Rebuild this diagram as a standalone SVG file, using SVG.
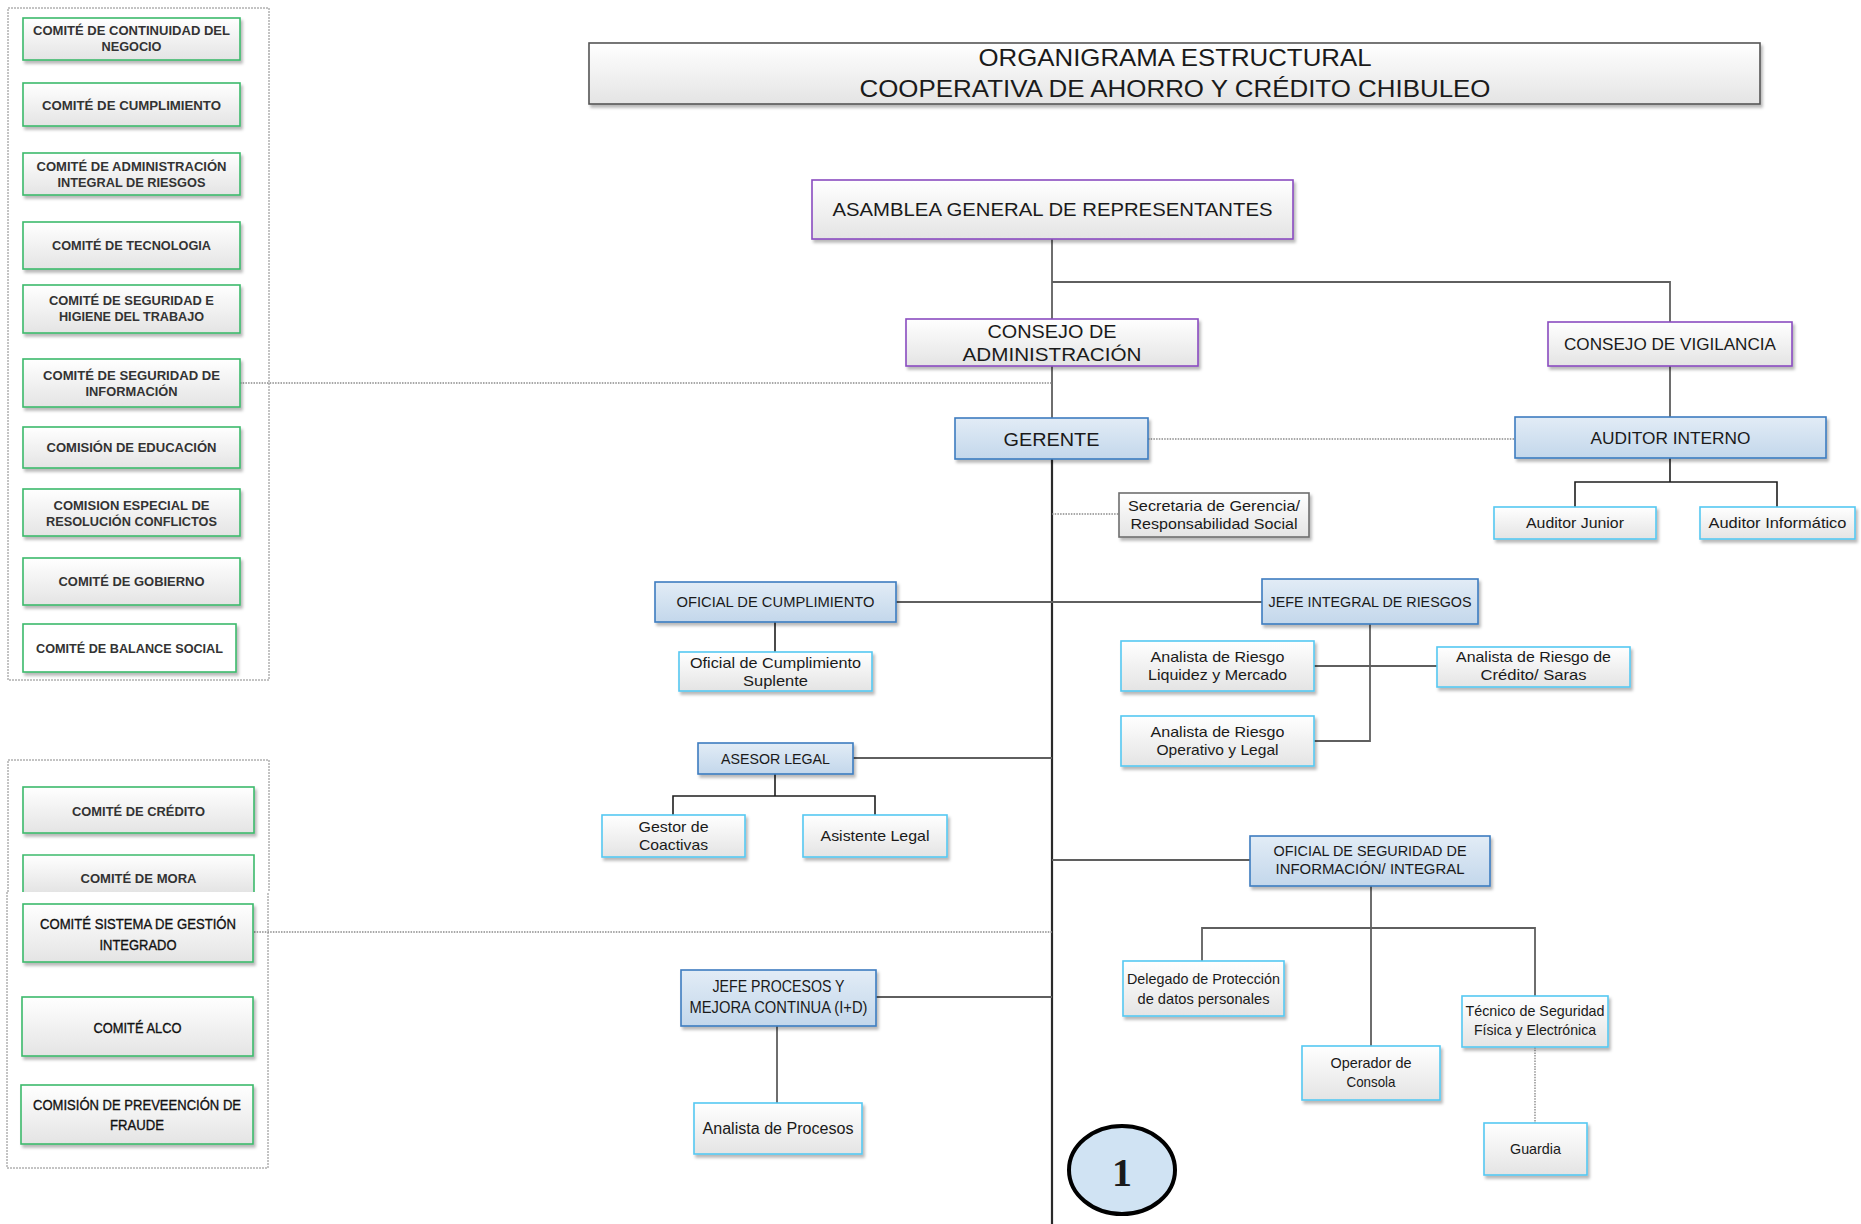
<svg xmlns="http://www.w3.org/2000/svg" width="1861" height="1224" viewBox="0 0 1861 1224">
<defs>
<linearGradient id="gGray" x1="0" y1="0" x2="0" y2="1"><stop offset="0" stop-color="#ffffff"/><stop offset="1" stop-color="#e4e4e4"/></linearGradient>
<linearGradient id="gBlue" x1="0" y1="0" x2="0" y2="1"><stop offset="0" stop-color="#e2ecf6"/><stop offset="1" stop-color="#c3d7eb"/></linearGradient>
<filter id="sh" x="-10%" y="-10%" width="130%" height="150%"><feDropShadow dx="2" dy="3" stdDeviation="1.5" flood-color="#000" flood-opacity="0.28"/></filter>
<style>
text{font-family:"Liberation Sans",Arial,sans-serif;fill:#1a1a1a;text-anchor:middle}
.com{fill:url(#gGray);stroke:#3cba6c;stroke-width:1.6;filter:url(#sh)}
.comw{fill:#ffffff;stroke:#3cba6c;stroke-width:1.6;filter:url(#sh)}
.ct{font-size:12.5px;font-weight:bold;fill:#333}
.ct2{font-size:15px;fill:#111;stroke:#111;stroke-width:0.35}
.pur{fill:url(#gGray);stroke:#8a4cc0;stroke-width:1.6;filter:url(#sh)}
.blue{fill:url(#gBlue);stroke:#3d7cc0;stroke-width:1.6;filter:url(#sh)}
.lb{fill:url(#gGray);stroke:#55c8f2;stroke-width:1.6;filter:url(#sh)}
.gr{fill:url(#gGray);stroke:#6e6e6e;stroke-width:1.6;filter:url(#sh)}
.ttl{fill:url(#gGray);stroke:#555;stroke-width:1.6;filter:url(#sh)}
.panel{fill:none;stroke:#888;stroke-width:1;stroke-dasharray:2 1}
.ln{fill:none;stroke:#5f5f5f;stroke-width:1.8}
.lk{fill:none;stroke:#1e1e1e;stroke-width:1.6}
.main{fill:none;stroke:#2a2a2a;stroke-width:2.2}
.dot{fill:none;stroke:#8a8a8a;stroke-width:1.4;stroke-dasharray:1.5 1.2}
.n1{font-size:19px}
.n2{font-size:17px}
.n3{font-size:15px}
.n4{font-size:14.5px}
</style>
</defs>

<g id="panel1">
<rect class="panel" x="8" y="8" width="261" height="672"/>
</g>
<g id="panel2">
<path class="panel" d="M8 892 V760 H269 V892"/>
<path class="panel" d="M7 892 V1168 H268 V892"/>
</g>

<g id="connectors">
<path class="ln" d="M1052 239 V319 M1052 366 V418"/>
<path class="main" d="M1052 459 V1224"/>
<path class="ln" d="M1052 282 H1670 V322 M1670 366 V417"/>
<path class="dot" d="M1148 439 H1515"/>
<path class="lk" d="M1670 458 V482 M1575 507 V482 H1777 V507"/>
<path class="dot" d="M1052 514 H1119"/>
<path class="ln" d="M896 602 H1262"/>
<path class="lk" d="M775 622 V652"/>
<path class="ln" d="M1370 624 V741 H1314 M1314 666 H1437"/>
<path class="ln" d="M853 758 H1052"/>
<path class="lk" d="M775 774 V796 M673 815 V796 H875 V815"/>
<path class="ln" d="M1052 860 H1250"/>
<path class="ln" d="M1371 886 V1046 M1202 961 V928 H1535 V996"/>
<path class="dot" d="M1535 1047 V1123"/>
<path class="ln" d="M876 997 H1052 M777 1026 V1103"/>
<path class="dot" d="M240 383 H1052"/>
<path class="dot" d="M254 932 H1052"/>
</g>

<g id="title">
<rect class="ttl" x="589" y="43" width="1171" height="61"/>
<text x="1175" y="66" font-size="24" textLength="393" lengthAdjust="spacingAndGlyphs">ORGANIGRAMA ESTRUCTURAL</text>
<text x="1175" y="97" font-size="24" textLength="631" lengthAdjust="spacingAndGlyphs">COOPERATIVA DE AHORRO Y CRÉDITO CHIBULEO</text>
</g>

<g id="c1"><rect class="com" x="23" y="18" width="217" height="42"/>
<text class="ct" x="131.5" y="35" textLength="197" lengthAdjust="spacingAndGlyphs">COMITÉ DE CONTINUIDAD DEL</text>
<text class="ct" x="131.5" y="50.5" textLength="60" lengthAdjust="spacingAndGlyphs">NEGOCIO</text></g>
<g id="c2"><rect class="com" x="23" y="83" width="217" height="43"/>
<text class="ct" x="131.5" y="110" textLength="179" lengthAdjust="spacingAndGlyphs">COMITÉ DE CUMPLIMIENTO</text></g>
<g id="c3"><rect class="com" x="23" y="153" width="217" height="42"/>
<text class="ct" x="131.5" y="171" textLength="190" lengthAdjust="spacingAndGlyphs">COMITÉ DE ADMINISTRACIÓN</text>
<text class="ct" x="131.5" y="187" textLength="148" lengthAdjust="spacingAndGlyphs">INTEGRAL DE RIESGOS</text></g>
<g id="c4"><rect class="com" x="23" y="222" width="217" height="47"/>
<text class="ct" x="131.5" y="250" textLength="159" lengthAdjust="spacingAndGlyphs">COMITÉ DE TECNOLOGIA</text></g>
<g id="c5"><rect class="com" x="23" y="285" width="217" height="48"/>
<text class="ct" x="131.5" y="305" textLength="165" lengthAdjust="spacingAndGlyphs">COMITÉ DE SEGURIDAD E</text>
<text class="ct" x="131.5" y="321" textLength="145" lengthAdjust="spacingAndGlyphs">HIGIENE DEL TRABAJO</text></g>
<g id="c6"><rect class="com" x="23" y="359" width="217" height="48"/>
<text class="ct" x="131.5" y="380" textLength="177" lengthAdjust="spacingAndGlyphs">COMITÉ DE SEGURIDAD DE</text>
<text class="ct" x="131.5" y="395.5" textLength="92" lengthAdjust="spacingAndGlyphs">INFORMACIÓN</text></g>
<g id="c7"><rect class="com" x="23" y="427" width="217" height="41"/>
<text class="ct" x="131.5" y="452" textLength="170" lengthAdjust="spacingAndGlyphs">COMISIÓN DE EDUCACIÓN</text></g>
<g id="c8"><rect class="com" x="23" y="489" width="217" height="47"/>
<text class="ct" x="131.5" y="510" textLength="156" lengthAdjust="spacingAndGlyphs">COMISION ESPECIAL DE</text>
<text class="ct" x="131.5" y="525.5" textLength="171" lengthAdjust="spacingAndGlyphs">RESOLUCIÓN CONFLICTOS</text></g>
<g id="c9"><rect class="com" x="23" y="558" width="217" height="47"/>
<text class="ct" x="131.5" y="586" textLength="146" lengthAdjust="spacingAndGlyphs">COMITÉ DE GOBIERNO</text></g>
<g id="c10"><rect class="comw" x="23" y="624" width="213" height="48"/>
<text class="ct" x="129.5" y="653" textLength="187" lengthAdjust="spacingAndGlyphs">COMITÉ DE BALANCE SOCIAL</text></g>

<g id="c11"><rect class="com" x="23" y="787" width="231" height="46"/>
<text class="ct" x="138.5" y="816" textLength="133" lengthAdjust="spacingAndGlyphs">COMITÉ DE CRÉDITO</text></g>
<g id="c12"><path class="com" d="M23 892 V855 H254 V892" style="filter:none"/>
<text class="ct" x="138.5" y="883" textLength="116" lengthAdjust="spacingAndGlyphs">COMITÉ DE MORA</text></g>
<g id="c13"><rect class="com" x="23" y="904" width="230" height="58"/>
<text class="ct2" x="138" y="929" textLength="196" lengthAdjust="spacingAndGlyphs">COMITÉ SISTEMA DE GESTIÓN</text>
<text class="ct2" x="138" y="950" textLength="77" lengthAdjust="spacingAndGlyphs">INTEGRADO</text></g>
<g id="c14"><rect class="com" x="22" y="997" width="231" height="59"/>
<text class="ct2" x="137.5" y="1033" textLength="88" lengthAdjust="spacingAndGlyphs">COMITÉ ALCO</text></g>
<g id="c15"><rect class="com" x="21" y="1085" width="232" height="59"/>
<text class="ct2" x="137" y="1110" textLength="208" lengthAdjust="spacingAndGlyphs">COMISIÓN DE PREVEENCIÓN DE</text>
<text class="ct2" x="137" y="1130" textLength="54" lengthAdjust="spacingAndGlyphs">FRAUDE</text></g>

<g id="asamblea"><rect class="pur" x="812" y="180" width="481" height="59"/>
<text class="n1" x="1052.5" y="216" textLength="440" lengthAdjust="spacingAndGlyphs">ASAMBLEA GENERAL DE REPRESENTANTES</text></g>
<g id="consejo-admin"><rect class="pur" x="906" y="319" width="292" height="47"/>
<text class="n1" x="1052" y="338" textLength="129" lengthAdjust="spacingAndGlyphs">CONSEJO DE</text>
<text class="n1" x="1052" y="361" textLength="179" lengthAdjust="spacingAndGlyphs">ADMINISTRACIÓN</text></g>
<g id="consejo-vigilancia"><rect class="pur" x="1548" y="322" width="244" height="44"/>
<text class="n2" x="1670" y="349.5" textLength="212" lengthAdjust="spacingAndGlyphs">CONSEJO DE VIGILANCIA</text></g>
<g id="gerente"><rect class="blue" x="955" y="418" width="193" height="41"/>
<text class="n1" x="1051.5" y="445.5" textLength="96" lengthAdjust="spacingAndGlyphs">GERENTE</text></g>
<g id="auditor-interno"><rect class="blue" x="1515" y="417" width="311" height="41"/>
<text class="n2" x="1670.5" y="444" textLength="160" lengthAdjust="spacingAndGlyphs">AUDITOR INTERNO</text></g>
<g id="auditor-junior"><rect class="lb" x="1494" y="507" width="162" height="32"/>
<text class="n4" x="1575" y="528" textLength="98" lengthAdjust="spacingAndGlyphs">Auditor Junior</text></g>
<g id="auditor-informatico"><rect class="lb" x="1700" y="507" width="155" height="32"/>
<text class="n4" x="1777.5" y="528" textLength="138" lengthAdjust="spacingAndGlyphs">Auditor Informático</text></g>
<g id="secretaria"><rect class="gr" x="1119" y="493" width="190" height="44"/>
<text class="n4" x="1214" y="511" textLength="172" lengthAdjust="spacingAndGlyphs">Secretaria de Gerencia/</text>
<text class="n4" x="1214" y="529" textLength="167" lengthAdjust="spacingAndGlyphs">Responsabilidad Social</text></g>
<g id="oficial-cumplimiento"><rect class="blue" x="655" y="582" width="241" height="40"/>
<text class="n3" x="775.5" y="607" textLength="198" lengthAdjust="spacingAndGlyphs">OFICIAL DE CUMPLIMIENTO</text></g>
<g id="jefe-riesgos"><rect class="blue" x="1262" y="579" width="216" height="45"/>
<text class="n3" x="1370" y="607" textLength="203" lengthAdjust="spacingAndGlyphs">JEFE INTEGRAL DE RIESGOS</text></g>
<g id="oficial-suplente"><rect class="lb" x="679" y="652" width="193" height="39"/>
<text class="n4" x="775.5" y="668" textLength="171" lengthAdjust="spacingAndGlyphs">Oficial de Cumplimiento</text>
<text class="n4" x="775.5" y="686" textLength="65" lengthAdjust="spacingAndGlyphs">Suplente</text></g>
<g id="analista-liquidez"><rect class="lb" x="1121" y="641" width="193" height="50"/>
<text class="n4" x="1217.5" y="662" textLength="134" lengthAdjust="spacingAndGlyphs">Analista de Riesgo</text>
<text class="n4" x="1217.5" y="680" textLength="139" lengthAdjust="spacingAndGlyphs">Liquidez y Mercado</text></g>
<g id="analista-credito"><rect class="lb" x="1437" y="647" width="193" height="40"/>
<text class="n4" x="1533.5" y="662" textLength="155" lengthAdjust="spacingAndGlyphs">Analista de Riesgo de</text>
<text class="n4" x="1533.5" y="680" textLength="106" lengthAdjust="spacingAndGlyphs">Crédito/ Saras</text></g>
<g id="analista-operativo"><rect class="lb" x="1121" y="716" width="193" height="50"/>
<text class="n4" x="1217.5" y="737" textLength="134" lengthAdjust="spacingAndGlyphs">Analista de Riesgo</text>
<text class="n4" x="1217.5" y="755" textLength="122" lengthAdjust="spacingAndGlyphs">Operativo y Legal</text></g>
<g id="asesor-legal"><rect class="blue" x="698" y="743" width="155" height="31"/>
<text class="n3" x="775.5" y="763.5" textLength="109" lengthAdjust="spacingAndGlyphs">ASESOR LEGAL</text></g>
<g id="gestor"><rect class="lb" x="602" y="815" width="143" height="42"/>
<text class="n4" x="673.5" y="832" textLength="70" lengthAdjust="spacingAndGlyphs">Gestor de</text>
<text class="n4" x="673.5" y="850" textLength="69" lengthAdjust="spacingAndGlyphs">Coactivas</text></g>
<g id="asistente-legal"><rect class="lb" x="803" y="815" width="144" height="42"/>
<text class="n4" x="875" y="841" textLength="109" lengthAdjust="spacingAndGlyphs">Asistente Legal</text></g>
<g id="oficial-seguridad"><rect class="blue" x="1250" y="836" width="240" height="50"/>
<text class="n4" x="1370" y="856" textLength="193" lengthAdjust="spacingAndGlyphs">OFICIAL DE SEGURIDAD DE</text>
<text class="n4" x="1370" y="874" textLength="189" lengthAdjust="spacingAndGlyphs">INFORMACIÓN/ INTEGRAL</text></g>
<g id="delegado"><rect class="lb" x="1123" y="961" width="161" height="55"/>
<text class="n4" x="1203.5" y="984" textLength="153" lengthAdjust="spacingAndGlyphs">Delegado de Protección</text>
<text class="n4" x="1203.5" y="1004" textLength="132" lengthAdjust="spacingAndGlyphs">de datos personales</text></g>
<g id="operador"><rect class="lb" x="1302" y="1046" width="138" height="54"/>
<text class="n4" x="1371" y="1068" textLength="81" lengthAdjust="spacingAndGlyphs">Operador de</text>
<text class="n4" x="1371" y="1087" textLength="49" lengthAdjust="spacingAndGlyphs">Consola</text></g>
<g id="tecnico"><rect class="lb" x="1462" y="996" width="146" height="51"/>
<text class="n4" x="1535" y="1016" textLength="139" lengthAdjust="spacingAndGlyphs">Técnico de Seguridad</text>
<text class="n4" x="1535" y="1035" textLength="122" lengthAdjust="spacingAndGlyphs">Física y Electrónica</text></g>
<g id="guardia"><rect class="lb" x="1484" y="1123" width="103" height="52"/>
<text class="n4" x="1535.5" y="1154" textLength="51" lengthAdjust="spacingAndGlyphs">Guardia</text></g>
<g id="jefe-procesos"><rect class="blue" x="681" y="970" width="195" height="56"/>
<text class="n2" x="778.5" y="992" textLength="132" lengthAdjust="spacingAndGlyphs">JEFE PROCESOS Y</text>
<text class="n2" x="778.5" y="1013" textLength="178" lengthAdjust="spacingAndGlyphs">MEJORA CONTINUA (I+D)</text></g>
<g id="analista-procesos"><rect class="lb" x="694" y="1103" width="168" height="51"/>
<text x="778" y="1134" font-size="16" textLength="151" lengthAdjust="spacingAndGlyphs">Analista de Procesos</text></g>

<g id="marker-1">
<ellipse cx="1122" cy="1170" rx="53" ry="44" fill="#d0e3f3" stroke="#000" stroke-width="4"/>
<text x="1122" y="1186" style="font-family:'Liberation Serif',serif" font-size="40" font-weight="bold" fill="#000">1</text>
</g>
</svg>
